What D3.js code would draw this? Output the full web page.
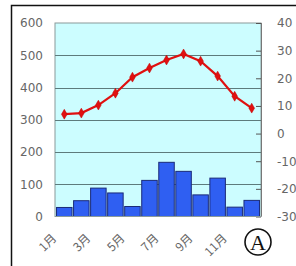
<!DOCTYPE html>
<html>
<head>
<meta charset="utf-8">
<script src="https://cdn.jsdelivr.net/npm/d3@7"></script>
<style>
  body { margin: 0; background: #fff; }
  svg { display: block; }
</style>
</head>
<body>
<script>
(function () {
  'use strict'

  // monthly climate data
  var months = ['1月', '2月', '3月', '4月', '5月', '6月', '7月', '8月', '9月', '10月', '11月', '12月']
  var precip = [28, 49, 88, 73, 31, 112, 168, 140, 67, 119, 29, 50]
  var temp = [7.0, 7.4, 10.3, 14.6, 20.4, 23.7, 26.6, 28.8, 26.2, 20.8, 13.5, 9.2]
  var precipTicks = [0, 100, 200, 300, 400, 500, 600]
  var tempTicks = [-30, -20, -10, 0, 10, 20, 30, 40]

  var w = 296
  var h = 266
  var left = 55
  var right = 261
  var top = 23
  var bottom = 216.5

  var s = d3.select('body').append('svg')
    .attr('width', w)
    .attr('height', h)

  // outer frame (cropped at right and bottom)
  s.append('path')
    .attr('d', 'M11.5,' + h + 'V5.5H' + w)
    .attr('fill', 'none')
    .attr('stroke', '#111')
    .attr('stroke-width', 1.5)

  var x = d3.scaleBand()
    .domain(months)
    .range([left, right])
    .padding(0.09)
  var yP = d3.scaleLinear().domain([0, 600]).range([bottom, top])
  var yT = d3.scaleLinear().domain([-30, 40]).range([bottom, top])

  // plot background
  s.append('rect')
    .attr('x', left)
    .attr('y', top)
    .attr('width', right - left)
    .attr('height', bottom - top)
    .attr('fill', '#ccfdff')
    .attr('stroke', '#8a9a9a')

  // gridlines
  s.selectAll('line.grid')
    .data(precipTicks.slice(1, -1))
    .enter().append('line')
      .attr('class', 'grid')
      .attr('x1', left)
      .attr('x2', right)
      .attr('y1', function (d) { return Math.round(yP(d)) + 0.5 })
      .attr('y2', function (d) { return Math.round(yP(d)) + 0.5 })
      .attr('stroke', '#5d7b7c')
      .attr('stroke-width', 1)

  // precipitation bars
  s.selectAll('rect.bar')
    .data(precip)
    .enter().append('rect')
      .attr('class', 'bar')
      .attr('x', function (d, i) { return x(months[i]) })
      .attr('y', function (d) { return yP(d) })
      .attr('width', x.bandwidth())
      .attr('height', function (d) { return yP(0) - yP(d) })
      .attr('fill', '#2f5ff2')
      .attr('stroke', '#1a2a78')
      .attr('stroke-width', 1)

  // left axis labels
  var yAxisL = d3.axisLeft(yP).tickValues(precipTicks).tickSize(0).tickPadding(12)
  var gl = s.append('g').attr('transform', 'translate(' + left + ',0)').call(yAxisL)
  gl.select('.domain').remove()
  gl.selectAll('text')
    .attr('fill', '#666')
    .style('font', '12px "DejaVu Sans", sans-serif')

  // right axis with inward ticks
  var yAxisR = d3.axisRight(yT).tickValues(tempTicks).tickSize(-5).tickPadding(16)
    .tickFormat(function (d) { return d < 0 ? '-' + Math.abs(d) : d })
  var gr = s.append('g').attr('transform', 'translate(' + right + ',0)').call(yAxisR)
  gr.select('.domain').attr('stroke', '#777').attr('d', 'M0.5,' + top + 'V' + bottom)
  gr.selectAll('line').attr('stroke', '#555')
  gr.selectAll('text')
    .attr('fill', '#666')
    .style('font', '12px "DejaVu Sans", sans-serif')

  // bottom line
  s.append('line')
    .attr('x1', left).attr('x2', right)
    .attr('y1', bottom).attr('y2', bottom)
    .attr('stroke', '#8a9a9a')

  // month labels, every other one, rotated
  s.selectAll('text.month')
    .data(months.filter(function (d, i) { return i % 2 === 0 }))
    .enter().append('text')
      .attr('class', 'month')
      .attr('transform', function (d) {
        return 'translate(' + (x(d) + x.bandwidth() / 2 - 7) + ',239) rotate(-45)'
      })
      .attr('text-anchor', 'end')
      .attr('fill', '#666')
      .style('font', '12px "Noto Sans CJK JP", "Noto Sans CJK SC", "DejaVu Sans", sans-serif')
      .text(function (d) { return d })

  // temperature line
  var line = d3.line()
    .x(function (d, i) { return x(months[i]) + x.bandwidth() / 2 })
    .y(function (d) { return yT(d) })
  s.append('path')
    .datum(temp)
    .attr('d', line)
    .attr('fill', 'none')
    .attr('stroke', '#e01010')
    .attr('stroke-width', 2.2)

  s.selectAll('path.pt')
    .data(temp)
    .enter().append('path')
      .attr('class', 'pt')
      .attr('d', d3.symbol().type(d3.symbolDiamond).size(28))
      .attr('transform', function (d, i) {
        return 'translate(' + (x(months[i]) + x.bandwidth() / 2) + ',' + yT(d) + ')'
      })
      .attr('fill', '#e01010')
      .attr('stroke', '#c00000')
      .attr('stroke-width', 0.5)

  // circled A marker
  s.append('circle')
    .attr('cx', 258)
    .attr('cy', 242)
    .attr('r', 13)
    .attr('fill', 'none')
    .attr('stroke', '#111')
    .attr('stroke-width', 1.6)
  s.append('text')
    .attr('x', 258)
    .attr('y', 250)
    .attr('text-anchor', 'middle')
    .attr('fill', '#111')
    .style('font', '22px "Liberation Serif", serif')
    .text('A')
}())
</script>
</body>
</html>
